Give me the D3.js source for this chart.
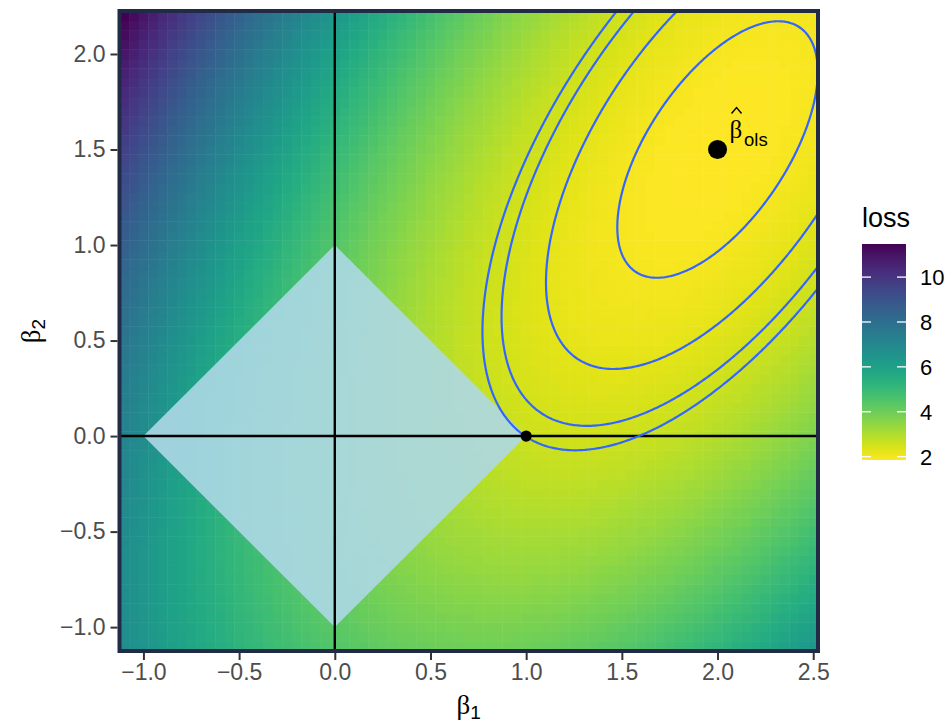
<!DOCTYPE html>
<meta charset="UTF-8">
<script src="https://d3js.org/d3.v7.min.js"></script>
<style>
  body { margin: 0; background: #fff; }
  text { font-family: "Liberation Sans", Arial, sans-serif; }
</style>
<div id="my_dataviz"></div>
<script>
// loss surface: quadratic bowl around the OLS estimate
const betaOls = [2, 1.5];
const lossMin = 1.85;
const lossQuad = [[0.805, -0.38], [-0.38, 0.49]];
const gridStep = 0.05;
const beta1Range = [-1.1, 2.5];
const beta2Range = [-1.1, 2.2];
const contourLevels = [1.99, 2.26, 2.50, 2.62];
const lassoSolution = [1, 0];
const l1Ball = [[-1, 0], [0, 1], [1, 0], [0, -1]];
const xTicks = [-1, -0.5, 0, 0.5, 1, 1.5, 2, 2.5];
const yTicks = [-1, -0.5, 0, 0.5, 1, 1.5, 2];
const legendTicks = [2, 4, 6, 8, 10];

function loss(b1, b2) {
  var d1 = b1 - betaOls[0], d2 = b2 - betaOls[1];
  return lossMin + lossQuad[0][0]*d1*d1 + 2*lossQuad[0][1]*d1*d2 + lossQuad[1][1]*d2*d2;
}

var width = 951, height = 726;
var panel = {left: 119.5, right: 818, top: 11, bottom: 651};

var svg = d3.select("#my_dataviz").append("svg")
    .attr("width", width).attr("height", height);

var x = d3.scaleLinear()
    .domain([beta1Range[0] - gridStep/2, beta1Range[1] + gridStep/2])
    .range([panel.left, panel.right]);
var y = d3.scaleLinear()
    .domain([beta2Range[0] - gridStep/2, beta2Range[1] + gridStep/2])
    .range([panel.bottom, panel.top]);

// raster cells
var n1 = Math.round((beta1Range[1] - beta1Range[0]) / gridStep) + 1;
var n2 = Math.round((beta2Range[1] - beta2Range[0]) / gridStep) + 1;
var cells = [];
for (var j = 0; j < n2; j++) {
  for (var i = 0; i < n1; i++) {
    var b1 = beta1Range[0] + i*gridStep, b2 = beta2Range[0] + j*gridStep;
    cells.push({b1: b1, b2: b2, loss: loss(b1, b2)});
  }
}
var lossExtent = d3.extent(cells, function(d) { return d.loss; });
var color = d3.scaleSequential(d3.interpolateViridis).domain([lossExtent[1], lossExtent[0]]);

svg.append("clipPath").attr("id", "panel-clip")
  .append("rect")
    .attr("x", panel.left).attr("y", panel.top)
    .attr("width", panel.right - panel.left).attr("height", panel.bottom - panel.top);

var plot = svg.append("g").attr("clip-path", "url(#panel-clip)");

var cw = x(gridStep) - x(0), ch = y(0) - y(gridStep);
plot.append("g")
  .selectAll("rect")
  .data(cells)
  .enter()
  .append("rect")
    .attr("x", function(d) { return x(d.b1 - gridStep/2); })
    .attr("y", function(d) { return y(d.b2 + gridStep/2); })
    .attr("width", cw + 0.5)
    .attr("height", ch + 0.5)
    .attr("fill", function(d) { return color(d.loss); });

// L1 constraint region
plot.append("path")
  .attr("d", d3.line().x(function(d) { return x(d[0]); }).y(function(d) { return y(d[1]); })(l1Ball) + "Z")
  .attr("fill", "#ADD8E6")
  .attr("fill-opacity", 0.9);

// axes through zero
plot.append("line")
  .attr("x1", x(0)).attr("x2", x(0))
  .attr("y1", panel.top).attr("y2", panel.bottom)
  .attr("stroke", "black").attr("stroke-width", 2.4);
plot.append("line")
  .attr("x1", panel.left).attr("x2", panel.right)
  .attr("y1", y(0)).attr("y2", y(0))
  .attr("stroke", "black").attr("stroke-width", 2.4);

// contours, computed on a finer grid a bit larger than the panel
var fStep = 0.01, fx0 = -1.4, fy0 = -1.4;
var fn = Math.round((2.8 - fx0) / fStep) + 1, fm = Math.round((2.6 - fy0) / fStep) + 1;
var fine = new Array(fn * fm);
for (var jj = 0; jj < fm; jj++)
  for (var ii = 0; ii < fn; ii++)
    fine[ii + jj*fn] = loss(fx0 + ii*fStep, fy0 + jj*fStep);

var contourPath = d3.geoPath(d3.geoTransform({
  point: function(px, py) {
    this.stream.point(x(fx0 + (px - 0.5)*fStep), y(fy0 + (py - 0.5)*fStep));
  }
}));
plot.append("g")
  .selectAll("path")
  .data(d3.contours().size([fn, fm]).thresholds(contourLevels)(fine))
  .enter()
  .append("path")
    .attr("d", contourPath)
    .attr("fill", "none")
    .attr("stroke", "#3366FF")
    .attr("stroke-width", 2.2);

// points
plot.append("circle")
  .attr("cx", x(betaOls[0])).attr("cy", y(betaOls[1])).attr("r", 9.5)
  .attr("fill", "black");
plot.append("circle")
  .attr("cx", x(lassoSolution[0])).attr("cy", y(lassoSolution[1])).attr("r", 5.6)
  .attr("fill", "black");

// beta-hat label
var lx = x(betaOls[0]) + 12, ly = y(betaOls[1]) - 12;
var lab = svg.append("g").attr("transform", "translate(" + lx + "," + ly + ")");
lab.append("text")
  .attr("x", 0).attr("y", 0)
  .style("font-family", "'Liberation Serif', serif")
  .style("font-size", "25px")
  .text("β");
lab.append("path")
  .attr("d", "M2,-24L7,-30L12,-24")
  .attr("fill", "none").attr("stroke", "black").attr("stroke-width", 1.4);
lab.append("text")
  .attr("x", 14.5).attr("y", 8)
  .style("font-size", "18.5px")
  .text("ols");

// panel border
svg.append("rect")
  .attr("x", panel.left).attr("y", panel.top)
  .attr("width", panel.right - panel.left).attr("height", panel.bottom - panel.top)
  .attr("fill", "none").attr("stroke", "#222B45").attr("stroke-width", 4);

// axes
var fmt = d3.format(".1f");
var xAxis = svg.append("g")
  .attr("transform", "translate(0," + (panel.bottom + 2) + ")")
  .call(d3.axisBottom(x).tickValues(xTicks).tickFormat(fmt).tickSize(7).tickPadding(4));
var yAxis = svg.append("g")
  .attr("transform", "translate(" + (panel.left - 2) + ",0)")
  .call(d3.axisLeft(y).tickValues(yTicks).tickFormat(fmt).tickSize(7).tickPadding(5));
[xAxis, yAxis].forEach(function(a) {
  a.select(".domain").remove();
  a.selectAll(".tick line").attr("stroke", "#333333").attr("stroke-width", 2);
  a.selectAll(".tick text")
    .attr("fill", "#4D4D4D")
    .style("font-size", "23px")
    .style("font-family", "'Liberation Sans', Arial, sans-serif");
});

// axis titles
var xt = svg.append("text")
  .attr("x", (panel.left + panel.right)/2).attr("y", 714)
  .attr("text-anchor", "middle");
xt.append("tspan").style("font-family", "'Liberation Serif', serif").style("font-size", "27px").text("β");
xt.append("tspan").attr("dy", 5).style("font-size", "19px").text("1");

var yt = svg.append("text")
  .attr("transform", "translate(40," + (panel.top + panel.bottom)/2 + ") rotate(-90)")
  .attr("text-anchor", "middle");
yt.append("tspan").style("font-family", "'Liberation Serif', serif").style("font-size", "27px").text("β");
yt.append("tspan").attr("dy", 5).style("font-size", "19px").text("2");

// legend
var lg = {x: 862, top: 244, bottom: 460, w: 44};
var legendY = d3.scaleLinear().domain(lossExtent).range([lg.bottom, lg.top]);
var grad = svg.append("defs").append("linearGradient")
  .attr("id", "lossgrad").attr("x1", 0).attr("x2", 0).attr("y1", 1).attr("y2", 0);
d3.range(0, 1.0001, 0.05).forEach(function(t) {
  var v = lossExtent[0] + t*(lossExtent[1] - lossExtent[0]);
  grad.append("stop").attr("offset", t).attr("stop-color", color(v));
});
svg.append("rect")
  .attr("x", lg.x).attr("y", lg.top).attr("width", lg.w).attr("height", lg.bottom - lg.top)
  .attr("fill", "url(#lossgrad)");
var lt = svg.append("g").selectAll("g").data(legendTicks).enter().append("g");
lt.append("line")
  .attr("x1", lg.x).attr("x2", lg.x + 9)
  .attr("y1", function(d) { return legendY(d); }).attr("y2", function(d) { return legendY(d); })
  .attr("stroke", "white").attr("stroke-width", 1.3);
lt.append("line")
  .attr("x1", lg.x + lg.w - 9).attr("x2", lg.x + lg.w)
  .attr("y1", function(d) { return legendY(d); }).attr("y2", function(d) { return legendY(d); })
  .attr("stroke", "white").attr("stroke-width", 1.3);
lt.append("text")
  .attr("x", lg.x + lg.w + 14)
  .attr("y", function(d) { return legendY(d); })
  .attr("dy", "0.36em")
  .style("font-size", "22px")
  .text(function(d) { return d; });
svg.append("text")
  .attr("x", lg.x).attr("y", 227)
  .style("font-size", "27px")
  .text("loss");
</script>
